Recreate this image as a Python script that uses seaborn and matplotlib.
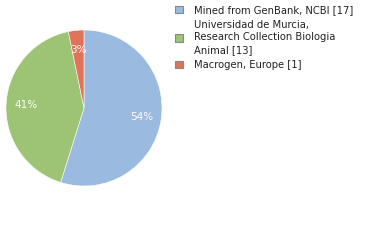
import matplotlib
matplotlib.use("Agg")
import matplotlib.pyplot as plt
import seaborn as sns
from matplotlib.patches import Patch

sns.set_style("white")
plt.rcParams['font.family'] = ['DejaVu Sans']

labels = ["Mined from GenBank, NCBI [17]",
          "Universidad de Murcia,\nResearch Collection Biologia\nAnimal [13]",
          "Macrogen, Europe [1]"]
values = [17, 13, 1]
colors = ["#9bbae0", "#9cc474", "#e07358"]

fig = plt.figure(figsize=(3.8, 2.4), dpi=100)
ax = fig.add_axes([6/380, (240-186)/240, 156/380, 156/240])
wedges, texts, autotexts = ax.pie(
    values, colors=colors, startangle=90, counterclock=False,
    autopct=lambda p: f"{int(p)}%", pctdistance=0.75,
    textprops=dict(color="white", fontsize=7.5),
    wedgeprops=dict(linewidth=0.4, edgecolor="white"))
ax.set_xlim(-1, 1)
ax.set_ylim(-1, 1)
ax.set_aspect("equal")

handles = [Patch(facecolor=c, edgecolor="#888888", linewidth=0.8) for c in colors]
leg = fig.legend(handles, labels, loc="upper left", bbox_to_anchor=(173/380, 1.0 - 3/240),
                 frameon=False, fontsize=7.2, handlelength=0.8, handleheight=0.8,
                 handletextpad=1.05, labelspacing=0.5, labelcolor="#222222",
                 borderaxespad=0, borderpad=0.2)
for t in leg.get_texts():
    t.set_linespacing(1.3)

fig.savefig("out.png", dpi=100)
